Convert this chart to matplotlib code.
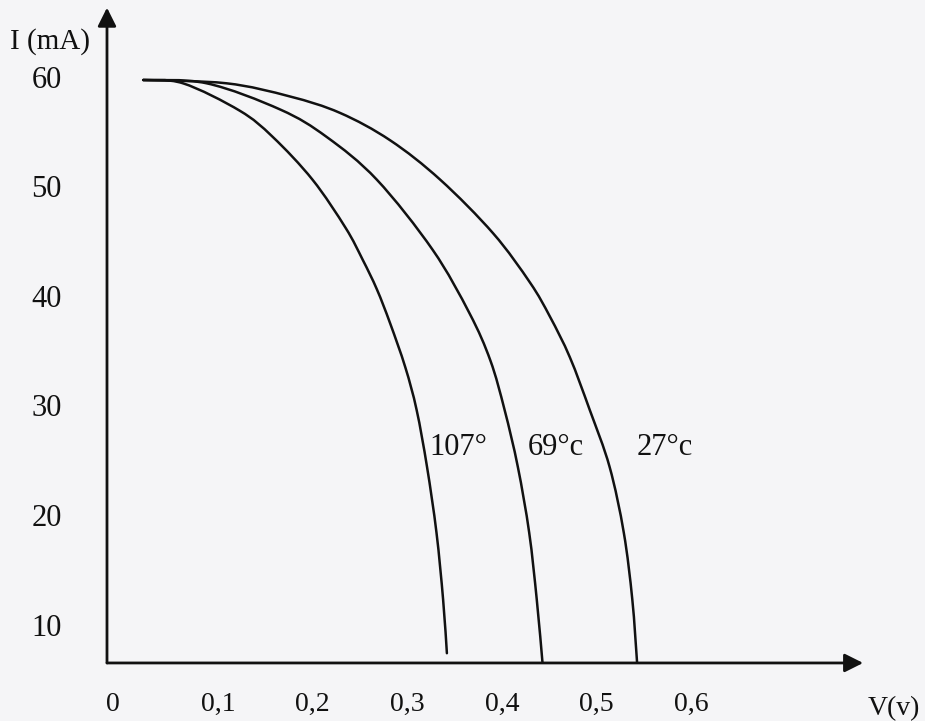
import matplotlib.pyplot as plt
from matplotlib.path import Path
from matplotlib.patches import PathPatch

# I-V curves of a diode at three temperatures
v_107 = [0.021, 0.063, 0.123, 0.158, 0.200, 0.235, 0.253, 0.268, 0.282,
         0.298, 0.310, 0.321, 0.331, 0.338, 0.342]
i_107 = [60.0, 59.7, 57.2, 54.8, 50.9, 46.5, 43.6, 40.9, 37.8,
         33.8, 29.9, 24.7, 18.7, 12.6, 7.7]

v_69 = [0.021, 0.088, 0.166, 0.215, 0.268, 0.327, 0.366, 0.388,
        0.403, 0.417, 0.429, 0.437, 0.443]
i_69 = [60.0, 59.7, 57.3, 54.8, 50.9, 44.5, 38.7, 34.4,
        29.9, 24.7, 18.7, 12.6, 6.9]

v_27 = [0.021, 0.109, 0.176, 0.229, 0.282, 0.335, 0.391, 0.430, 0.451,
        0.472, 0.493, 0.514, 0.529, 0.538, 0.543]
i_27 = [60.0, 59.7, 58.5, 57.0, 54.5, 50.9, 46.0, 41.5, 38.4,
        34.7, 29.9, 24.7, 18.7, 12.6, 6.9]

curve_labels = ["107°", "69°c", "27°c"]
label_v = [0.324, 0.428, 0.543]
label_i = 26.5

x_ticks = [-0.011, 0.1, 0.2, 0.3, 0.4, 0.5, 0.6]
x_ticklabels = ["0", "0,1", "0,2", "0,3", "0,4", "0,5", "0,6"]
y_ticks = [10, 20, 30, 40, 50, 60]

# layout of the hand drawn axes (in data units)
x0, y0 = -0.0173, 6.81
x_end, y_end = 0.782, 66.6

ink = "#111111"
paper = "#f5f5f7"
serif = "Liberation Serif"


def smooth_path(xs, ys):
    # catmull-rom through the read points, drawn as bezier segments
    pts = list(zip(xs, ys))
    n = len(pts)
    verts = [pts[0]]
    codes = [Path.MOVETO]
    for k in range(n - 1):
        p0 = pts[k - 1] if k > 0 else pts[k]
        p1 = pts[k]
        p2 = pts[k + 1]
        p3 = pts[k + 2] if k + 2 < n else pts[k + 1]
        c1 = (p1[0] + (p2[0] - p0[0]) / 6, p1[1] + (p2[1] - p0[1]) / 6)
        c2 = (p2[0] - (p3[0] - p1[0]) / 6, p2[1] - (p3[1] - p1[1]) / 6)
        verts += [c1, c2, p2]
        codes += [Path.CURVE4] * 3
    return Path(verts, codes)


fig = plt.figure(figsize=(9.25, 7.21), dpi=100, facecolor=paper)
ax = fig.add_axes([0, 0, 1, 1])
ax.set_facecolor(paper)
ax.set_xlim(-0.1304, 0.8474)
ax.set_ylim(1.515, 67.30)
ax.axis("off")

for v, i in [(v_107, i_107), (v_69, i_69), (v_27, i_27)]:
    ax.add_patch(PathPatch(smooth_path(v, i), facecolor="none",
                           edgecolor=ink, lw=1.8, capstyle="round"))

# axes with arrows
arrow = dict(arrowstyle="-|>", color=ink, lw=2, mutation_scale=28,
             shrinkA=0, shrinkB=0)
ax.annotate("", xy=(x_end, y0), xytext=(x0, y0), arrowprops=arrow)
ax.annotate("", xy=(x0, y_end), xytext=(x0, y0), arrowprops=arrow)

for xt, lab in zip(x_ticks, x_ticklabels):
    ax.text(xt, 3.0, lab, ha="center", va="center", fontsize=20,
            family=serif, color=ink)
for yt in y_ticks:
    ax.text(-0.081, yt, str(yt), ha="center", va="center", fontsize=22,
            family=serif, color=ink)

ax.text(-0.120, 63.5, "I (mA)", ha="left", va="center", fontsize=21,
        family=serif, color=ink)
ax.text(0.814, 2.6, "V(v)", ha="center", va="center", fontsize=20,
        family=serif, color=ink)

for lab, lv in zip(curve_labels, label_v):
    ax.text(lv, label_i, lab, ha="left", va="center", fontsize=22,
            family=serif, color=ink)

fig.savefig("out.png", dpi=100, facecolor=paper)
